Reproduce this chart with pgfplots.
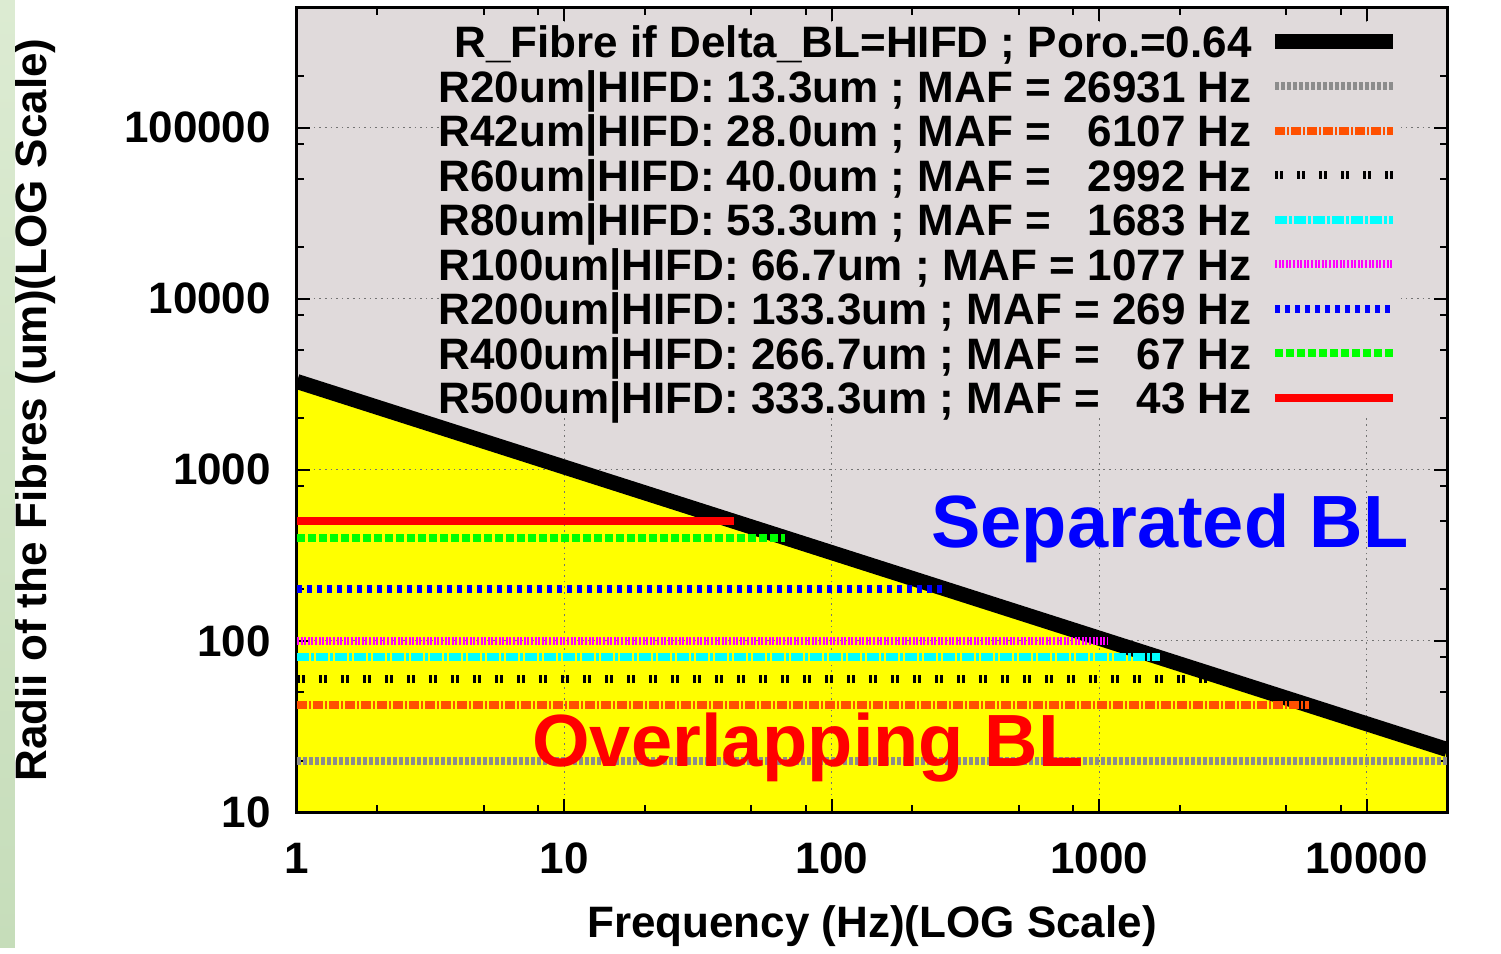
\documentclass[border=0pt]{standalone}
\usepackage{fontspec}
\setmainfont{Liberation Sans}
\usepackage{pgfplots}
\pgfplotsset{compat=1.18}
\definecolor{bgc}{HTML}{E0DADB}
\definecolor{orng}{HTML}{FF5000}
\definecolor{gryl}{HTML}{8C8C8C}
\definecolor{yel}{RGB}{255,255,0}
\definecolor{cyn}{RGB}{0,255,255}
\definecolor{mag}{RGB}{255,0,255}
\definecolor{blu}{RGB}{0,0,255}
\definecolor{grn}{RGB}{0,255,0}
\definecolor{rd}{RGB}{255,0,0}
\definecolor{stripT}{HTML}{DCEBD2}
\definecolor{stripB}{HTML}{C6DDBA}
\newcommand{\bigf}{\bfseries\fontsize{22}{26}\selectfont}
\begin{document}
\begin{tikzpicture}
\begin{axis}[
  set layers,
  at={(0pt,0pt)}, anchor=south west,
  scale only axis, width=575pt, height=402pt,
  xmode=log, ymode=log,
  xmin=1, xmax=20000, ymin=10, ymax=500000,
  xtick={1,10,100,1000,10000}, xticklabels={1,10,100,1000,10000},
  ytick={10,100,1000,10000,100000}, yticklabels={10,100,1000,10000,100000},
  minor xtick={2,5,8,20,50,80,200,500,800,2000,5000,8000},
  minor ytick={20,50,80,200,500,800,2000,5000,8000,20000,50000,80000,200000},
  tick align=inside,
  major tick length=6.5pt, minor tick length=3.5pt,
  every tick/.style={black, line width=1pt},
  axis line style={line width=1.5pt},
  grid=major,
  major grid style={draw=black!55, line width=0.6pt, dash pattern=on 0.8pt off 2pt},
  /pgf/number format/assume math mode=true,
  tick label style={font=\bigf},
  xticklabel style={yshift=-12pt},
  yticklabel style={xshift=-9.5pt},
  xlabel={Frequency (Hz)(LOG Scale)},
  ylabel={Radii of the Fibres (um)(LOG Scale)},
  label style={font=\bigf},
  xlabel style={at={(axis description cs:0.5,-0.1567)}, anchor=base},
  ylabel style={at={(axis description cs:-0.2278,0.5)}, anchor=center},
  legend plot pos=right,
  legend cell align=right,
  legend image code/.code={\draw[#1] (0pt,0pt) -- (59pt,0pt);},
  legend style={at={(rel axis cs:1,1)}, anchor=north east, xshift=-23pt, yshift=-7.65pt,
    draw=none, fill=bgc, inner sep=0pt, row sep=4.05pt, column sep=8pt,
    font=\bigf, nodes={inner sep=0pt, text height=17pt, text depth=1.2pt}},
]
\addplot[on layer=axis background, fill=bgc, draw=none, forget plot]
  coordinates {(1,10) (20000,10) (20000,500000) (1,500000)} -- cycle;
\addplot[on layer=axis background, fill=yel, draw=none, forget plot]
  coordinates {(1,10) (1,3280) (20000,23.19) (20000,10)} -- cycle;

\addplot[black, line width=7.5pt] coordinates {(1,3280) (20000,23.19)};
\addlegendentry{R\_Fibre if Delta\_BL=HIFD ; Poro.=0.64}
\addplot[gryl, line width=4pt, dash pattern=on 2pt off 1pt] coordinates {(1,20) (20000,20)};
\addlegendentry{R20um|HIFD: 13.3um ; MAF = 26931 Hz}
\addplot[orng, line width=4pt, dash pattern=on 5pt off 1pt on 1pt off 1pt] coordinates {(1,42) (6107,42)};
\addlegendentry{R42um|HIFD: 28.0um ; MAF = \phantom{2}6107 Hz}
\addplot[black, line width=4pt, dash pattern=on 1.5pt off 1pt on 1.5pt off 7pt] coordinates {(1,60) (2992,60)};
\addlegendentry{R60um|HIFD: 40.0um ; MAF = \phantom{2}2992 Hz}
\addplot[cyn, line width=4pt, dash pattern=on 6pt off 1pt on 1.5pt off 1pt] coordinates {(1,80) (1683,80)};
\addlegendentry{R80um|HIFD: 53.3um ; MAF = \phantom{2}1683 Hz}
\addplot[mag, line width=4pt, dash pattern=on 1pt off 0.8pt] coordinates {(1,100) (1077,100)};
\addlegendentry{R100um|HIFD: 66.7um ; MAF = 1077 Hz}
\addplot[blu, line width=4pt, dash pattern=on 2.5pt off 2.5pt] coordinates {(1,200) (269,200)};
\addlegendentry{R200um|HIFD: 133.3um ; MAF = 269 Hz}
\addplot[grn, line width=4pt, dash pattern=on 4pt off 1.5pt] coordinates {(1,400) (67,400)};
\addlegendentry{R400um|HIFD: 266.7um ; MAF = \phantom{2}67 Hz}
\addplot[rd, line width=4pt] coordinates {(1,500) (43,500)};
\addlegendentry{R500um|HIFD: 333.3um ; MAF = \phantom{2}43 Hz}

\node[text=blu, font=\bfseries\fontsize{37}{40}\selectfont, anchor=base] at (axis cs:1841,350) {Separated BL};
\node[text=rd, font=\bfseries\fontsize{37}{40}\selectfont, anchor=base] at (axis cs:81.4,18.5) {Overlapping BL};
\end{axis}
\shade[top color=stripT, bottom color=stripB] (-148.5pt,-67.5pt) rectangle (-141pt,406pt);
\path (-148.5pt,-67.5pt) rectangle (602pt,406pt);
\end{tikzpicture}
\end{document}
